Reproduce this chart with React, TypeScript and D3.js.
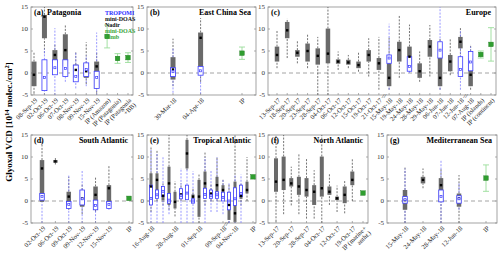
import { useEffect, useRef } from 'react'
import * as d3 from 'd3'

type Box = [number, number, number, number, number] | null // whisker low, q1, median, q3, whisker high
type Limb = [number, number] | null // value, error

// (a) Patagonia
const patagoniaLabels = ['08-Sep-19', '02-Oct-19', '06-Oct-19', '07-Oct-19', '08-Nov-19', '09-Nov-19', '15-Nov-19', 'IP (Amazon)', 'IP (Patagonia)', 'IP (Patagonia\n+BB)']
const patagoniaNadir: Box[] = [[-4.6, -3.0, -0.4, 2.6, 4.8], [4.5, 7.9, 12.8, 13.2, 15], [0.5, 2.3, 4.1, 5.2, 6.5], [-0.5, 1.5, 5.2, 8.8, 10.9], [-2, -1.1, 0.7, 1.9, 4.8], [-2.5, -1.1, 0.4, 2.2, 7.0], [-4.5, -3.4, 1.5, 2.6, 4.8], null, null, null]
const patagoniaTropomi: Box[] = [null, [-5, -4.0, -1.0, 3.0, 5.5], [-5, -0.4, 1.2, 3.0, 10.2], [-2, -0.8, 1.0, 3.0, 5], [-3.5, -2.0, -0.8, 1.8, 4.8], [-3, -0.8, 0.8, 2.3, 4], [-5, -3.5, -1.0, 0.4, 9.2], null, null, null]
const patagoniaLimb: Limb[] = [null, null, null, null, null, null, null, [8.3, 2.6], [3.3, 1.1], [3.5, 1.1]]

// (b) East China Sea
const chinaLabels = ['30-Mar-18', '04-Apr-18', 'IP']
const chinaNadir: Box[] = [[-3, -1.5, 0.8, 3.6, 7.8], [-2, 1.5, 8.0, 9.2, 12.5], null]
const chinaTropomi: Box[] = [[-4.5, -0.8, 0.3, 1.2, 5.5], [-4.8, -0.5, 0.5, 1.5, 6], null]
const chinaLimb: Limb[] = [null, null, [4.5, 1.4]]

// (c) Europe
const europeLabels = ['13-Sep-17', '18-Sep-17', '20-Sep-17', '23-Sep-17', '28-Sep-17', '04-Oct-17', '06-Oct-17', '12-Oct-17', '15-Oct-17', '19-Oct-17', '21-Oct-17', '15-May-18', '19-May-18', '24-May-18', '28-May-18', '29-May-18', '06-Jun-18', '07-Jun-18', '12-Jun-18', '07-Aug-18', 'IP (islands)', 'IP (continent)']
const europeNadir: Box[] = [
  [1.1, 2.6, 4.1, 6.0, 9.8], [3.4, 7.9, 9.7, 11.6, 12.4], [2.2, 3.7, 4.6, 5.2, 7.5], [1.1, 2.6, 5.0, 6.7, 9.0],
  [-5, 1.9, 3.9, 5.6, 8.2], [-5, 2.2, 4.4, 10.1, 15], [0.7, 2.1, 2.6, 3.1, 4.9], [1.1, 1.9, 2.4, 3.0, 4.1],
  [0.3, 1.1, 1.8, 2.6, 4.9], [-0.8, 2.6, 4.1, 5.2, 7.9], [-3.8, 0.7, 2.2, 3.4, 8.2],
  [-3.8, -3.0, -1.1, 2.2, 8.0], [-1.1, 2.6, 5.2, 7.1, 13.1], [0.4, 1.5, 3.7, 6.0, 11.0], [-2.0, -1.1, 0.4, 2.2, 4.9],
  [-0.8, 3.7, 6.0, 7.5, 10.9], [-3.8, -3.0, -1.1, 3.4, 8.0], [-0.5, 0.4, 2.6, 4.1, 7.9], [3.5, 5.6, 7.1, 8.2, 10.2],
  [-3.8, -3.0, -0.4, 3.4, 6.5], null, null,
]
const europeTropomi: Box[] = [
  null, null, null, null, null, null, null, null, null, null, null,
  [-3.8, 2.2, 3.4, 4.1, 11.2], null, [0, 0.4, 1.5, 3.7, 6], null, null, [-3.8, 3.4, 5.2, 7.1, 15], null, [-3.8, -0.8, 0.8, 3.7, 9.5],
  [-0.5, 0.5, 2.5, 4.9, 6.0], null, null,
]
const europeLimb: Limb[] = [null, null, null, null, null, null, null, null, null, null, null, null, null, null, null, null, null, null, null, null, [4.2, 0.8], [6.5, 3.8]]

// (d) South Atlantic
const southLabels = ['02-Oct-19', '06-Oct-19', '09-Oct-19', '09-Nov-19', '12-Nov-19', '15-Nov-19', 'IP']
const southNadir: Box[] = [[-0.2, -0.2, 7.4, 9.3, 13.5], [8.3, 8.7, 9.0, 9.3, 9.8], [-2, -1.3, 1.0, 2.1, 5.5], [-3, -1.3, 0.6, 2.5, 4], [-2.5, -2.0, 1.4, 3.3, 5.5], [-0.8, -0.5, 2.9, 3.6, 8.2], null]
const southTropomi: Box[] = [[-5, 0.2, 1.0, 1.7, 1.7], null, [-5, -1.7, -0.8, -0.1, 5.9], [-5, -0.9, 0.5, 2.5, 7], [-5, -2.0, -1.0, 0.2, 3], [-2, -1.7, -0.8, -0.1, 2], null]
const southLimb: Limb[] = [null, null, null, null, null, null, [0.6, 0]]

// (e) Tropical Atlantic
const tropicalLabels = ['16-Aug-18', '', '', '', '28-Aug-18', '', '', '', '01-Sep-18', '', '', '', '09-Sep-18', '', '04-Nov-18', '', '', 'IP']
const tropicalNadir: Box[] = [
  [-2.5, -0.9, 3.3, 6.3, 12.5], [0, 1.4, 4.8, 6.3, 11.6], [-1, 0.2, 1.2, 2.1, 4], [-2, -0.9, 4.0, 7.8, 15],
  [-3.5, -1.7, -0.2, 2.1, 4.5], [0, 0.6, 1.5, 2.3, 4], [7.0, 7.4, 10.8, 13.9, 15], [0, 0.5, 1.0, 1.5, 3],
  [-5, -3.6, 1.0, 4.8, 6], [-1, 1.0, 4.0, 6.7, 11], [0, 1.0, 1.7, 2.5, 4], [0, 1.4, 3.6, 5.5, 10],
  [0, 1.0, 2.5, 3.6, 5], [-5, -4.3, -0.9, 1.7, 4], [-5, -4.8, -2.8, 4.4, 15], [-1, 0.5, 1.2, 1.9, 4],
  [0, 1.7, 2.5, 4.4, 10], null,
]
const tropicalTropomi: Box[] = [
  [-5, -0.9, 0.6, 3.6, 11.6], [-5, 0.6, 1.4, 2.5, 11], [-5, 1.0, 2.2, 3.3, 10], [-3, -0.5, 0.2, 1.7, 6],
  null, [-5, 0.5, 1.2, 2.8, 7.5], [-5, 0.3, 1.8, 3.6, 9], [-5, -0.5, 0.0, 0.5, 6.8],
  null, [-5, 0.6, 1.5, 2.9, 10], [-2.5, 0.6, 1.2, 2.5, 7], [-2.5, 0.6, 1.4, 2.1, 10],
  [-3, 0, 0.8, 2, 5], [-5, -2, 0, 2, 4], [-5, -1, 0.5, 3, 6], [-5, 1.0, 1.7, 3.6, 6],
  null, null,
]
const tropicalLimb: Limb[] = [null, null, null, null, null, null, null, null, null, null, null, null, null, null, null, null, null, [5.5, 0]]

// (f) North Atlantic
const northLabels = ['13-Sep-17', '', '20-Sep-17', '', '28-Sep-17', '', '04-Oct-17', '', '12-Oct-17', '', '19-Oct-17', 'IP (marine+\nanthr.)']
const northNadir: Box[] = [
  [-4.7, 2.1, 4.4, 9.7, 15], [-3, 2.5, 4.8, 10.1, 15], [-1, 3.3, 4.0, 5.2, 7.8], [-3, 1.4, 3.3, 5.5, 10.8],
  [-4, 1.0, 2.5, 5.2, 9.7], [-4, -0.9, 2.1, 3.6, 7], [-5, 1.0, 2.9, 10.1, 15], [-0.9, 1.4, 2.1, 3.3, 6.3],
  [-2.5, 0.2, 0.6, 1.0, 3.5], [-2.8, -0.5, 1.4, 3.3, 4.8], [0, 3.6, 4.8, 6.7, 9.5], null,
]
const northLimb: Limb[] = [null, null, null, null, null, null, null, null, null, null, null, [1.8, 0]]

// (g) Mediterranean Sea
const medLabels = ['15-May-18', '24-May-18', '28-May-18', '12-Jun-18', 'IP']
const medNadir: Box[] = [[-5, -2.0, 0.2, 2.5, 7.8], [2.9, 4.0, 4.8, 5.5, 7.4], [-5, -0.2, 3.6, 5.2, 7.5], [-5, -1.3, 0.6, 1.7, 5.9], null]
const medTropomi: Box[] = [[-5, -0.5, 0.3, 1.0, 7.4], null, [-5, -0.2, 1.0, 2.5, 9.3], [-2, -0.5, 0.5, 1.2, 4.0], null]
const medLimb: Limb[] = [null, null, null, null, [5.2, 3.0]]

const legendItems = [
  { text: 'TROPOMI', color: '#2b2bff' },
  { text: 'mini-DOAS', color: '#111' },
  { text: 'Nadir', color: '#111' },
  { text: 'mini-DOAS', color: '#3aa53a' },
  { text: 'Limb', color: '#3aa53a' },
]

const FONT = '"Liberation Serif", "Times New Roman", serif'
const GRAY = '#6a6a6a'
const BLUE = '#3c3cff'
const BLUE_LIGHT = '#7f7fff'
const GREEN = '#2f9e2f'
const GREEN_LIGHT = '#98dc98'

const panels = [
  { tag: '(a)', name: 'Patagonia', nameLeft: true, row: 0, x0: 31, x1: 133, first: 34, last: 128, ipGap: 0, breaks: [] as number[], bw: 5, labels: patagoniaLabels, nadir: patagoniaNadir, tropomi: patagoniaTropomi, limb: patagoniaLimb },
  { tag: '(b)', name: 'East China Sea', nameLeft: false, row: 0, x0: 147, x1: 256, first: 173, last: 242, ipGap: 0.5, breaks: [], bw: 5, labels: chinaLabels, nadir: chinaNadir, tropomi: chinaTropomi, limb: chinaLimb },
  { tag: '(c)', name: 'Europe', nameLeft: false, row: 0, x0: 268, x1: 496, first: 277, last: 491, ipGap: 0, breaks: [10, 18], bw: 4.5, labels: europeLabels, nadir: europeNadir, tropomi: europeTropomi, limb: europeLimb },
  { tag: '(d)', name: 'South Atlantic', nameLeft: false, row: 1, x0: 31, x1: 133, first: 42, last: 129, ipGap: 0.5, breaks: [], bw: 4.5, labels: southLabels, nadir: southNadir, tropomi: southTropomi, limb: southLimb },
  { tag: '(e)', name: 'Tropical Atlantic', nameLeft: false, row: 1, x0: 147, x1: 256, first: 151, last: 253, ipGap: 0, breaks: [12], bw: 3, labels: tropicalLabels, nadir: tropicalNadir, tropomi: tropicalTropomi, limb: tropicalLimb },
  { tag: '(f)', name: 'North Atlantic', nameLeft: false, row: 1, x0: 268, x1: 368, first: 276, last: 363, ipGap: 0.4, breaks: [], bw: 4, labels: northLabels, nadir: northNadir, tropomi: northLabels.map(() => null) as Box[], limb: northLimb },
  { tag: '(g)', name: 'Mediterranean Sea', nameLeft: false, row: 1, x0: 387, x1: 497, first: 405, last: 486, ipGap: 0.5, breaks: [], bw: 4.5, labels: medLabels, nadir: medNadir, tropomi: medTropomi, limb: medLimb },
]

type Panel = typeof panels[number]

function drawPanel(svg: d3.Selection<SVGSVGElement, unknown, null, undefined>, p: Panel) {
  const [top, bottom] = p.row === 0 ? [7, 95] : [135, 223]
  const y = d3.scaleLinear().domain([-5, 15]).range([bottom, top]).clamp(true)
  const firstIP = p.labels.findIndex(l => l.startsWith('IP'))
  const slot = (i: number) => i + (firstIP >= 0 && i >= firstIP ? p.ipGap : 0)
  const x = d3.scaleLinear().domain([0, slot(p.labels.length - 1)]).range([p.first, p.last])
  const hw = p.bw / 2
  const g = svg.append('g')

  g.append('rect')
    .attr('x', p.x0).attr('y', top)
    .attr('width', p.x1 - p.x0).attr('height', bottom - top)
    .attr('fill', '#fff').attr('stroke', '#8c8c8c').attr('stroke-width', 0.8)

  // y ticks
  y.ticks(4).forEach(t => {
    g.append('line').attr('x1', p.x0).attr('x2', p.x0 + 2).attr('y1', y(t)).attr('y2', y(t)).attr('stroke', '#8c8c8c').attr('stroke-width', 0.7)
    g.append('line').attr('x1', p.x1).attr('x2', p.x1 - 2).attr('y1', y(t)).attr('y2', y(t)).attr('stroke', '#8c8c8c').attr('stroke-width', 0.7)
    g.append('text')
      .attr('x', p.x0 - 3).attr('y', y(t)).attr('dy', '0.35em')
      .attr('text-anchor', 'end')
      .style('font-size', '7px').style('font-family', FONT).attr('fill', '#333')
      .text(t)
  })

  // zero line
  g.append('line')
    .attr('x1', p.x0).attr('x2', p.x1).attr('y1', y(0)).attr('y2', y(0))
    .attr('stroke', '#9a9a9a').attr('stroke-width', 0.9).attr('stroke-dasharray', '4,3')

  // whiskers
  const whisker = (b: Box, i: number, color: string) => {
    if (!b) return
    const cx = x(slot(i))
    ;[[b[0], b[1]], [b[3], b[4]]].forEach(([a, c]) => {
      if (a === c) return
      g.append('line').attr('x1', cx).attr('x2', cx).attr('y1', y(a)).attr('y2', y(c))
        .attr('stroke', color).attr('stroke-width', 0.8).attr('stroke-dasharray', '2,1.4')
    })
  }
  p.nadir.forEach((b, i) => whisker(b, i, '#505050'))
  p.tropomi.forEach((b, i) => whisker(b, i, BLUE_LIGHT))

  // nadir boxes
  p.nadir.forEach((b, i) => {
    if (!b) return
    const cx = x(slot(i))
    g.append('rect').attr('x', cx - hw).attr('width', p.bw)
      .attr('y', y(b[3])).attr('height', Math.max(1.5, y(b[1]) - y(b[3])))
      .attr('fill', GRAY)
  })
  // tropomi boxes
  p.tropomi.forEach((b, i) => {
    if (!b) return
    const cx = x(slot(i))
    g.append('rect').attr('x', cx - hw).attr('width', p.bw)
      .attr('y', y(b[3])).attr('height', Math.max(1.5, y(b[1]) - y(b[3])))
      .attr('fill', '#fff').attr('stroke', BLUE).attr('stroke-width', 0.8)
  })
  // medians
  p.nadir.forEach((b, i) => {
    if (!b) return
    const cx = x(slot(i))
    g.append('rect').attr('x', cx - 1.2).attr('y', y(b[2]) - 1.2).attr('width', 2.4).attr('height', 2.4).attr('fill', '#000')
  })
  p.tropomi.forEach((b, i) => {
    if (!b) return
    const cx = x(slot(i))
    g.append('rect').attr('x', cx - 1).attr('y', y(b[2]) - 1).attr('width', 2).attr('height', 2)
      .attr('fill', '#fff').attr('stroke', BLUE).attr('stroke-width', 0.7)
  })

  // limb values
  p.limb.forEach((l, i) => {
    if (!l) return
    const cx = x(slot(i))
    if (l[1] > 0) {
      g.append('line').attr('x1', cx).attr('x2', cx).attr('y1', y(l[0] - l[1])).attr('y2', y(l[0] + l[1]))
        .attr('stroke', GREEN_LIGHT).attr('stroke-width', 0.9)
      ;[l[0] - l[1], l[0] + l[1]].forEach(v => {
        g.append('line').attr('x1', cx - 3).attr('x2', cx + 3).attr('y1', y(v)).attr('y2', y(v))
          .attr('stroke', GREEN_LIGHT).attr('stroke-width', 0.9)
      })
    }
    g.append('rect').attr('x', cx - 2.3).attr('y', y(l[0]) - 2.3).attr('width', 4.6).attr('height', 4.6)
      .attr('fill', GREEN).attr('stroke', '#1f7a1f').attr('stroke-width', 0.4)
  })

  // x ticks and labels
  p.labels.forEach((lab, i) => {
    if (!lab) return
    const cx = x(slot(i))
    g.append('line').attr('x1', cx).attr('x2', cx).attr('y1', bottom).attr('y2', bottom - 2).attr('stroke', '#8c8c8c').attr('stroke-width', 0.7)
    const t = g.append('text')
      .attr('transform', `translate(${cx + 1},${bottom + 3}) rotate(-45)`)
      .attr('text-anchor', 'end')
      .style('font-size', '6.5px').style('font-family', FONT).attr('fill', '#222')
    lab.split('\n').forEach((line, k) => {
      t.append('tspan').attr('x', 0).attr('dy', k === 0 ? '0.6em' : '1em').text(line)
    })
  })

  // axis breaks
  p.breaks.forEach(bi => {
    const bx = (x(slot(bi)) + x(slot(bi + 1))) / 2
    g.append('text').attr('x', bx).attr('y', bottom + 2.5).attr('text-anchor', 'middle')
      .style('font-size', '7px').style('font-family', FONT).style('font-style', 'italic').attr('fill', '#333')
      .text('//')
  })

  // titles
  g.append('text').attr('x', p.x0 + 3).attr('y', top + 7.5)
    .style('font-size', '8px').style('font-weight', 'bold').style('font-family', FONT)
    .text(p.tag)
  g.append('text')
    .attr('x', p.nameLeft ? p.x0 + 16 : p.x1 - 5).attr('y', top + 7.5)
    .attr('text-anchor', p.nameLeft ? 'start' : 'end')
    .style('font-size', '8px').style('font-weight', 'bold').style('font-family', FONT)
    .text(p.name)
}

export default function App() {
  const ref = useRef<SVGSVGElement>(null)
  useEffect(() => {
    const svg = d3.select(ref.current as SVGSVGElement)
    svg.selectAll('*').remove()
    svg.append('rect').attr('width', 500).attr('height', 260).attr('fill', '#fff')

    panels.forEach(p => drawPanel(svg, p))

    // legend in panel (a)
    legendItems.forEach((d, i) => {
      svg.append('text').attr('x', 105).attr('y', 14.5 + i * 6)
        .style('font-size', '6px').style('font-weight', 'bold').style('font-family', FONT)
        .attr('fill', d.color).text(d.text)
    })

    // y axis label
    const yl = svg.append('text')
      .attr('transform', 'translate(12,122) rotate(-90)')
      .attr('text-anchor', 'middle')
      .style('font-size', '9px').style('font-weight', 'bold').style('font-family', FONT)
    yl.append('tspan').text('Glyoxal VCD [10')
    yl.append('tspan').attr('dy', -3).style('font-size', '6.5px').text('14')
    yl.append('tspan').attr('dy', 3).text(' molec./cm')
    yl.append('tspan').attr('dy', -3).style('font-size', '6.5px').text('2')
    yl.append('tspan').attr('dy', 3).text(']')
  }, [])

  return <svg ref={ref} width={500} height={260} style={{ position: 'absolute', left: 0, top: 0 }} />
}
